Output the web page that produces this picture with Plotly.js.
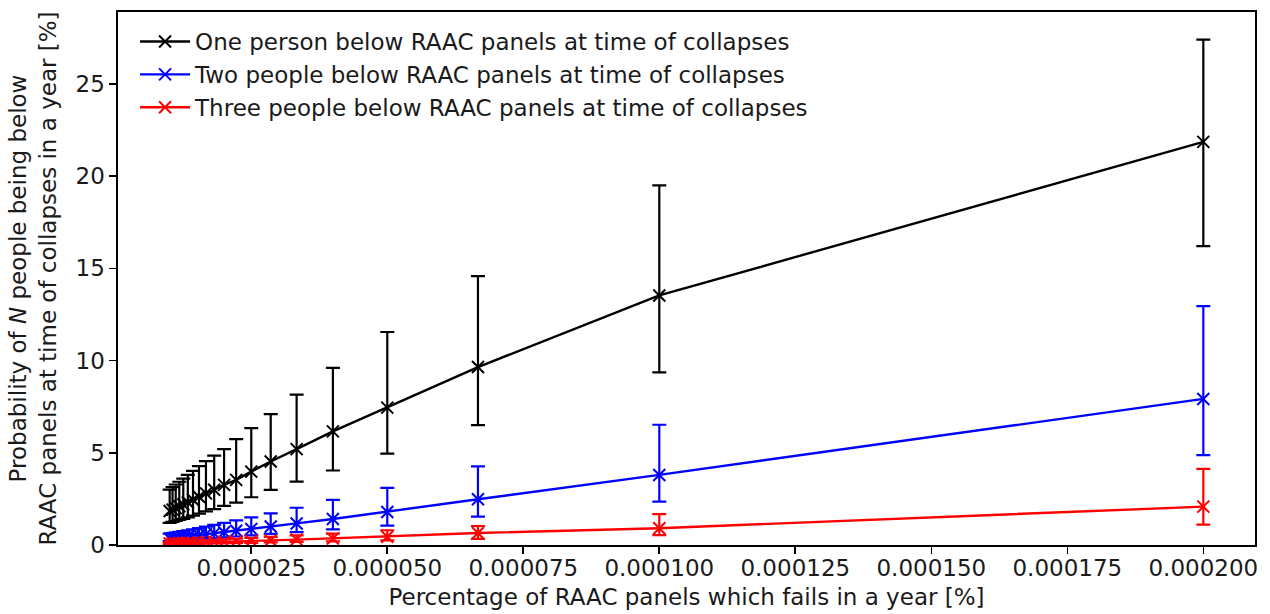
<!DOCTYPE html>
<html>
<head>
<meta charset="utf-8">
<script src="https://cdn.plot.ly/plotly-3.0.1.min.js"></script>
<style>html,body{margin:0;padding:0;background:#fff;}#chart{width:1270px;height:614px;}</style>
</head>
<body>
<div id="chart"></div>
<script>
// x: percentage of RAAC panels which fails in a year (points at 0.0002/k, k = 1..20)
const xValues = [0.0002, 0.0001, 0.0000666667, 0.00005, 0.00004, 0.0000333333, 0.0000285714, 0.000025,
  0.0000222222, 0.00002, 0.0000181818, 0.0000166667, 0.0000153846, 0.0000142857, 0.0000133333,
  0.0000125, 0.0000117647, 0.0000111111, 0.0000105263, 0.00001];

const seriesNames = [
  "One person below RAAC panels at time of collapses",
  "Two people below RAAC panels at time of collapses",
  "Three people below RAAC panels at time of collapses"
];
const seriesColors = ["#000000", "#0000ff", "#ff0000"];

// One person
const oneValue = [21.86, 13.53, 9.65, 7.45, 6.16, 5.2, 4.53, 3.98, 3.53, 3.26, 3.0, 2.8, 2.62, 2.45, 2.32, 2.2, 2.1, 2.0, 1.92, 1.84];
const oneUpper = [27.4, 19.5, 14.58, 11.55, 9.6, 8.15, 7.1, 6.34, 5.74, 5.2, 4.85, 4.55, 4.28, 4.02, 3.8, 3.6, 3.43, 3.28, 3.14, 3.0];
const oneLower = [16.2, 9.36, 6.5, 4.95, 4.04, 3.44, 2.99, 2.59, 2.3, 2.12, 1.95, 1.82, 1.7, 1.59, 1.5, 1.42, 1.36, 1.3, 1.25, 1.2];

// Two people
const twoValue = [7.92, 3.8, 2.48, 1.79, 1.41, 1.17, 1.0, 0.87, 0.77, 0.69, 0.63, 0.58, 0.53, 0.49, 0.46, 0.43, 0.41, 0.39, 0.37, 0.35];
const twoUpper = [12.95, 6.52, 4.26, 3.1, 2.45, 2.02, 1.72, 1.5, 1.33, 1.2, 1.09, 1.0, 0.92, 0.85, 0.8, 0.75, 0.71, 0.67, 0.64, 0.61];
const twoLower = [4.87, 2.35, 1.54, 1.05, 0.85, 0.7, 0.6, 0.52, 0.46, 0.41, 0.38, 0.35, 0.32, 0.3, 0.28, 0.26, 0.25, 0.24, 0.22, 0.21];

// Three people
const threeValue = [2.08, 0.91, 0.65, 0.45, 0.35, 0.29, 0.25, 0.22, 0.19, 0.17, 0.16, 0.145, 0.135, 0.125, 0.115, 0.108, 0.1, 0.095, 0.09, 0.085];
const threeUpper = [4.13, 1.67, 1.03, 0.8, 0.62, 0.52, 0.44, 0.38, 0.34, 0.3, 0.28, 0.255, 0.235, 0.22, 0.2, 0.19, 0.175, 0.165, 0.158, 0.15];
const threeLower = [1.1, 0.54, 0.33, 0.25, 0.2, 0.17, 0.14, 0.12, 0.11, 0.1, 0.095, 0.087, 0.08, 0.075, 0.069, 0.065, 0.06, 0.057, 0.054, 0.051];

const xTickStep = 0.000025;
const yTickValues = [0, 5, 10, 15, 20, 25];

const FONT = "DejaVu Sans, Liberation Sans, sans-serif";
const FS = 23;

function makeTrace(i, vals, up, lo) {
  return {
    type: "scatter",
    mode: "lines+markers",
    name: seriesNames[i],
    x: xValues,
    y: vals,
    line: {color: seriesColors[i], width: 2.4},
    marker: {symbol: "x-thin", size: 12, color: seriesColors[i], line: {color: seriesColors[i], width: 2}},
    error_y: {
      type: "data",
      symmetric: false,
      array: up.map((u, j) => u - vals[j]),
      arrayminus: lo.map((l, j) => vals[j] - l),
      color: seriesColors[i],
      thickness: 2.2,
      width: 7
    }
  };
}

const data = [
  makeTrace(0, oneValue, oneUpper, oneLower),
  makeTrace(1, twoValue, twoUpper, twoLower),
  makeTrace(2, threeValue, threeUpper, threeLower)
];

const layout = {
  width: 1270,
  height: 614,
  paper_bgcolor: "#ffffff",
  plot_bgcolor: "#ffffff",
  margin: {l: 118, r: 15, t: 12, b: 69, pad: 0},
  font: {family: FONT, size: FS, color: "#000"},
  showlegend: true,
  legend: {
    x: 0.015, y: 0.985, xanchor: "left", yanchor: "top",
    bgcolor: "rgba(255,255,255,0.8)",
    borderwidth: 0,
    font: {family: FONT, size: FS, color: "#1a1a1a"},
    tracegroupgap: 0,
    itemwidth: 50
  },
  xaxis: {
    range: [0.0000005, 0.0002095],
    tick0: 0,
    dtick: xTickStep,
    tickformat: ".6f",
    ticks: "outside",
    ticklen: 7,
    tickwidth: 1.6,
    tickcolor: "#000",
    ticklabelstandoff: -5,
    showline: true,
    linecolor: "#000",
    linewidth: 1.6,
    mirror: true,
    showgrid: false,
    zeroline: false,
    tickfont: {family: FONT, size: FS, color: "#1a1a1a"},
    title: {text: "Percentage of RAAC panels which fails in a year [%]", font: {family: FONT, size: FS, color: "#1a1a1a"}, standoff: 8}
  },
  yaxis: {
    range: [0, 28.9],
    tickvals: yTickValues,
    ticktext: yTickValues.map(String),
    ticks: "outside",
    ticklen: 7,
    tickwidth: 1.6,
    tickcolor: "#000",
    showline: true,
    linecolor: "#000",
    linewidth: 1.6,
    mirror: true,
    showgrid: false,
    zeroline: false,
    tickfont: {family: FONT, size: FS, color: "#1a1a1a"},
    title: {text: "Probability of <i>N</i> people being below<br>RAAC panels at time of collapses in a year [%]", font: {family: FONT, size: FS, color: "#1a1a1a"}, standoff: 12}
  }
};

Plotly.newPlot("chart", data, layout, {displayModeBar: false, staticPlot: true});
</script>
</body>
</html>
